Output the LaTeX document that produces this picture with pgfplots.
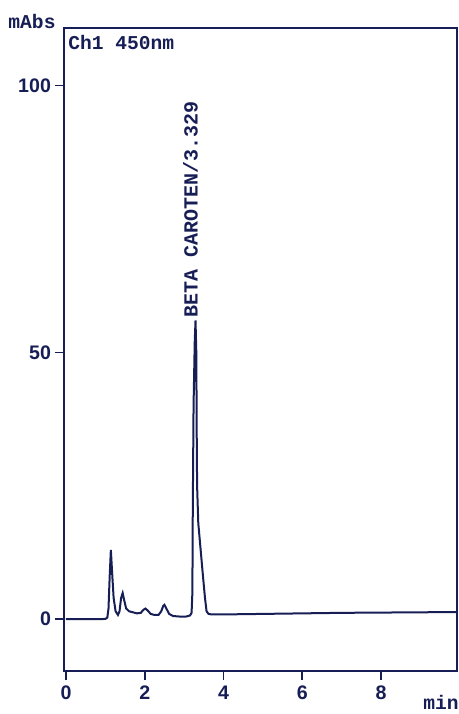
\documentclass[border=0pt]{standalone}
\usepackage{fontspec}
\setmainfont{Liberation Mono}
\newfontfamily\ticksans{Liberation Sans}
\usepackage{pgfplots}
\pgfplotsset{compat=1.18}
\definecolor{ink}{RGB}{22,30,85}
\begin{document}
\begin{tikzpicture}
\begin{axis}[
  at={(0,0)}, anchor=south west,
  scale only axis, width=196.5pt, height=321.5pt,
  xmin=-0.05, xmax=9.93, ymin=-9.7, ymax=110.8,
  axis line style={ink, line width=1.1pt},
  xtick={0,2,4,6,8}, ytick={0,50,100},
  tick align=outside, xtick pos=bottom, ytick pos=left,
  major tick length=4.5pt,
  tick style={ink, line width=0.8pt},
  /pgf/number format/assume math mode=true,
  ticklabel style={font=\ticksans\fontsize{9.8}{11}\selectfont\bfseries, text=ink},
  xticklabel style={yshift=0.5pt},
  yticklabel style={xshift=1.5pt},
  clip=false,
]
\addplot[ink, line width=1pt] coordinates {
(0,0) (0.5,0) (1.0,0.05) (1.05,0.3) (1.08,2) (1.11,8) (1.14,13) (1.17,9) (1.21,4) (1.26,1.5)
(1.32,0.8) (1.36,1.5) (1.40,4) (1.44,4.9) (1.48,3.5) (1.53,2) (1.6,1.5) (1.7,1.3) (1.8,1.1)
(1.9,1.2) (1.97,1.8) (2.02,2.0) (2.08,1.6) (2.15,1.0) (2.25,0.8) (2.35,0.8) (2.42,1.5)
(2.47,2.5) (2.50,2.7) (2.55,2.0) (2.62,1.0) (2.72,0.6) (2.9,0.5) (3.05,0.5) (3.15,0.7)
(3.19,1.2) (3.21,5) (3.22,20) (3.24,40) (3.27,52) (3.29,56) (3.31,50) (3.32,35) (3.33,25)
(3.36,18) (3.42,13) (3.48,8) (3.53,4) (3.57,1.5) (3.62,1.0) (3.7,0.9) (4.0,0.9) (5,1.0)
(6,1.1) (7,1.2) (8,1.25) (9,1.3) (9.93,1.35)
};
\node[rotate=90, anchor=west, inner sep=0pt, text=ink, font=\fontsize{10}{12}\selectfont\bfseries]
  at (axis cs:3.16,56.5) {BETA CAROTEN/3.329};
\node[anchor=west, inner sep=0pt, text=ink, font=\fontsize{9.8}{12}\selectfont\bfseries]
  at (rel axis cs:0.01,0.977) {Ch1 450nm};
\end{axis}
\node[inner sep=0pt, text=ink, font=\fontsize{9.8}{12}\selectfont\bfseries] at (-16pt,325pt) {mAbs};
\node[inner sep=0pt, text=ink, font=\fontsize{9.8}{12}\selectfont\bfseries] at (188.5pt,-15.8pt) {min};
\pgfresetboundingbox
\path[use as bounding box] (-32pt,-21.5pt) rectangle (197.5pt,335.5pt);
\end{tikzpicture}
\end{document}
